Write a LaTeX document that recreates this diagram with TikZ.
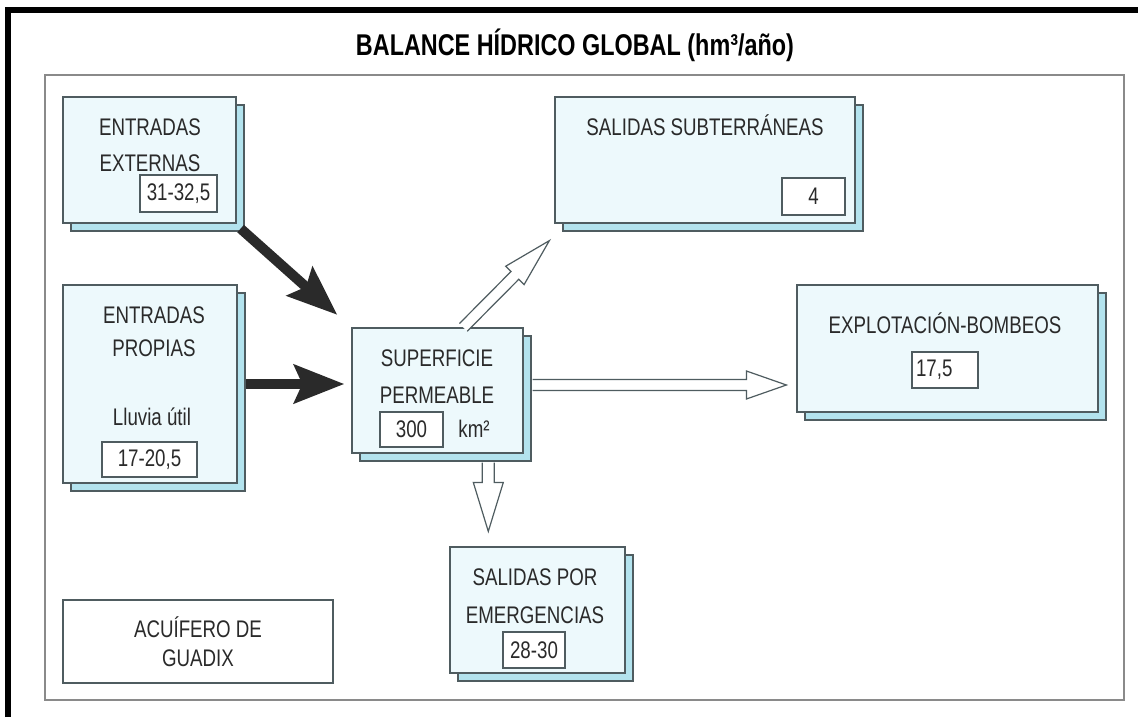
\documentclass[tikz,border=0pt]{standalone}
\usepackage{fontspec}
\setmainfont{Liberation Sans}[FakeStretch=0.78]
\usetikzlibrary{arrows.meta,shadows,calc}
\definecolor{boxfill}{HTML}{EDF9FC}
\definecolor{shadefill}{HTML}{B3E3EE}
\definecolor{edge}{HTML}{4F5C60}
\definecolor{ink}{HTML}{2A2A2A}
\definecolor{framegray}{HTML}{8A8A8A}
\newcommand{\hollowarrow}[5]{%
  \coordinate (ha-h) at ($(#2)!#5!(#1)$);
  \draw[hollow] ($(#1)!#3!90:(#2)$) -- ($(ha-h)!#3!-90:(#1)$) -- ($(ha-h)!#4!-90:(#1)$) -- (#2)
     -- ($(ha-h)!#4!90:(#1)$) -- ($(ha-h)!#3!90:(#1)$) -- ($(#1)!#3!-90:(#2)$);
}
\begin{document}
\begin{tikzpicture}[x=0.5pt,y=-0.5pt,
  panel/.style={draw=edge, line width=0.6pt, fill=boxfill, inner sep=0pt,
    copy shadow={shadow xshift=4pt, shadow yshift=-4pt, fill=shadefill, draw=edge, line width=0.6pt}},
  valbox/.style={draw=edge, line width=0.6pt, fill=white, inner sep=0pt, font=\fontsize{12}{14}\selectfont, text=ink},
  lbl/.style={font=\fontsize{12}{14}\selectfont, text=ink, inner sep=0pt},
  solidarrow/.style={draw=ink, line width=5pt, -{Stealth[length=25pt,width=19pt,inset=4pt]}},
  hollow/.style={draw=edge, line width=0.6pt, fill=white, line join=miter},
]
\useasboundingbox (0,0) rectangle (1138,717);
\fill[white] (0,0) rectangle (1138,717);
% outer black frame (left and top)
\draw[line width=3pt, black] (8,717) -- (8,10) -- (1138,10);
% inner frame
\draw[framegray, line width=0.6pt] (45,75) rectangle (1124,700);
% title
\node[font=\bfseries\fontsize{15}{18}\selectfont, text=black, inner sep=0pt] (title) at (575,45) {BALANCE HÍDRICO GLOBAL (hm³/año)};

% boxes
\node[panel, minimum width=86.5pt, minimum height=63pt] (ext) at (149.5,160) {};
\node[panel, minimum width=87pt, minimum height=99pt] (pro) at (150,384) {};
\node[panel, minimum width=85.5pt, minimum height=62.5pt] (sup) at (437.5,390.5) {};
\node[panel, minimum width=150pt, minimum height=63pt] (sub) at (705,160) {};
\node[panel, minimum width=150.5pt, minimum height=63.5pt] (exp) at (947.5,348.5) {};
\node[panel, minimum width=87.5pt, minimum height=63pt] (eme) at (537.5,610) {};
\node[draw=edge, line width=0.6pt, fill=white, inner sep=0pt, minimum width=135pt, minimum height=41.5pt] (acu) at (198,641.5) {};

% texts
\node[lbl] (extA) at (150,127) {ENTRADAS};
\node[lbl] (extB) at (150,163) {EXTERNAS};
\node[valbox, minimum width=38.5pt, minimum height=18.5pt] (extV) at (178.5,193.5) {31-32,5};

\node[lbl] (proA) at (154,315) {ENTRADAS};
\node[lbl] (proB) at (154,348) {PROPIAS};
\node[lbl] (proC) at (152,417) {Lluvia útil};
\node[valbox, minimum width=47.5pt, minimum height=17.5pt] (proV) at (149.5,459.5) {17-20,5};

\node[lbl] (supA) at (437,358) {SUPERFICIE};
\node[lbl] (supB) at (437,395) {PERMEABLE};
\node[valbox, minimum width=31.5pt, minimum height=17.5pt] (supV) at (411.5,429.5) {300};
\node[lbl] (supU) at (474,429) {km²};

\node[lbl] (subA) at (705,125) {SALIDAS SUBTERRÁNEAS};
\node[valbox, minimum width=31.5pt, minimum height=18.5pt] (subV) at (813.5,196.5) {4};

\node[lbl] (expA) at (945,323) {EXPLOTACIÓN-BOMBEOS};
\node[valbox, minimum height=18pt, text width=29pt, inner xsep=2pt, align=left] (expV) at (945,370) {17,5};

\node[lbl] (emeA) at (535,577) {SALIDAS POR};
\node[lbl] (emeB) at (535,615) {EMERGENCIAS};
\node[valbox, minimum width=31pt, minimum height=18pt] (emeV) at (534,650) {28-30};

\node[lbl] (acuA) at (198,627) {ACUÍFERO DE};
\node[lbl] (acuB) at (198,658) {GUADIX};

% solid arrows
\draw[solidarrow, shorten >=9.4pt] ([shift={(4,5)}]ext.south east) -- (sup.north west);
\draw[solidarrow, shorten >=7.5pt] ([xshift=4pt]pro.east) -- ([xshift=4pt]pro.east -| sup.west);

% hollow arrows
\coordinate (s1) at ($(sup.north west)!0.65!(sup.north east)$);
\coordinate (t1) at ($(sub.south west)+(-5,17)$);
\hollowarrow{s1}{t1}{2.75pt}{6.5pt}{24.5pt}
\coordinate (s2) at ($(sup.east)+(9,-5.5)$);
\coordinate (t2) at ($(exp.west |- s2)+(-10,0)$);
\hollowarrow{s2}{t2}{2.75pt}{7pt}{20pt}
\coordinate (s3) at ($(sup.south west)!0.795!(sup.south east)+(0,9)$);
\coordinate (t3) at (s3 |- {$(eme.north)+(0,-15)$});
\hollowarrow{s3}{t3}{3pt}{7.5pt}{24.5pt}
\end{tikzpicture}
\end{document}
